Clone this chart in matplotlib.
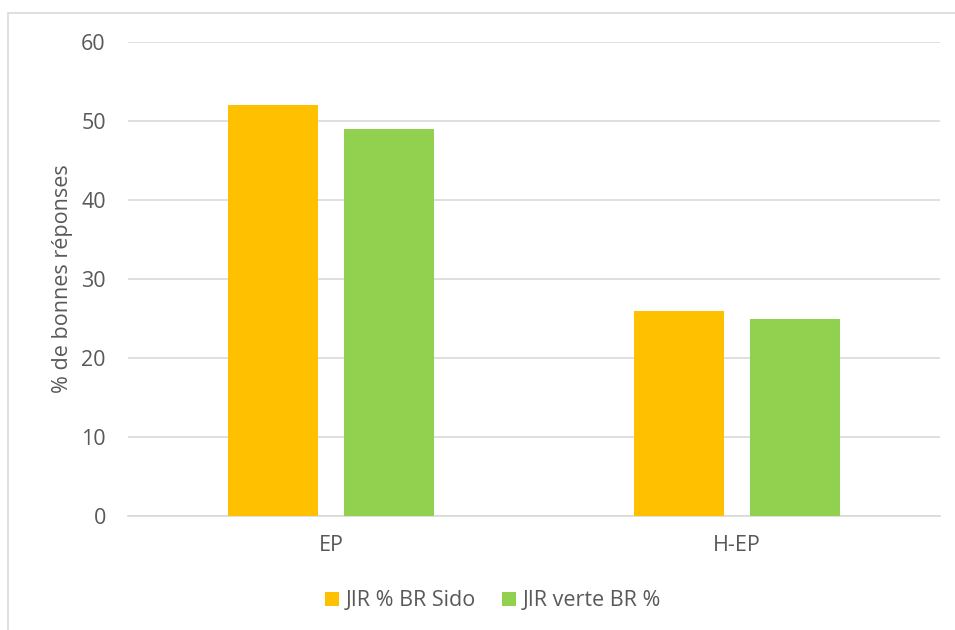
import matplotlib.pyplot as plt
import numpy as np
from matplotlib.patches import Rectangle

categories = ['EP', 'H-EP']
series_names = ['JIR % BR Sido', 'JIR verte BR %']
sido_values = [52, 26]
verte_values = [49, 25]
y_ticks = [0, 10, 20, 30, 40, 50, 60]

plt.rcParams['font.family'] = ['Open Sans', 'DejaVu Sans']
text_color = '#595959'
fs = 15.5

fig = plt.figure(figsize=(9.55, 6.3), dpi=100)
ax = fig.add_axes([128 / 955, 1 - 516 / 630, 812 / 955, 474 / 630])

x = np.arange(len(categories))
width = 0.222
offset = 0.142
ax.bar(x - offset, sido_values, width, color='#FFC000', label=series_names[0], zorder=3)
ax.bar(x + offset, verte_values, width, color='#92D050', label=series_names[1], zorder=3)

ax.set_xlim(-0.5, 1.5)
ax.set_ylim(0, 60)
ax.set_yticks(y_ticks)
ax.set_xticks(x)
ax.set_xticklabels(categories)
ax.grid(axis='y', color='#D9D9D9', linewidth=1.2, zorder=0)
for s in ['top', 'right', 'left']:
    ax.spines[s].set_visible(False)
ax.spines['bottom'].set_color('#D9D9D9')
ax.spines['bottom'].set_linewidth(1.2)
ax.tick_params(axis='both', length=0, labelsize=fs, colors=text_color, pad=16)
ax.tick_params(axis='x', pad=14)
ax.set_ylabel('% de bonnes réponses', fontsize=fs, color=text_color, labelpad=6)

fig.legend(loc='center', bbox_to_anchor=(493 / 955, 1 - 601 / 630), ncol=2, frameon=False,
           fontsize=fs, labelcolor=text_color, handlelength=0.65, handleheight=0.65,
           handletextpad=0.3, columnspacing=1.2)

# outer chart frame
fig.patches.append(Rectangle((8 / 955, -0.1), 1.2, 1 - 13 / 630 + 0.1, transform=fig.transFigure,
                             fill=False, edgecolor='#D9D9D9', linewidth=1.2))

fig.savefig('out.png', dpi=100)
